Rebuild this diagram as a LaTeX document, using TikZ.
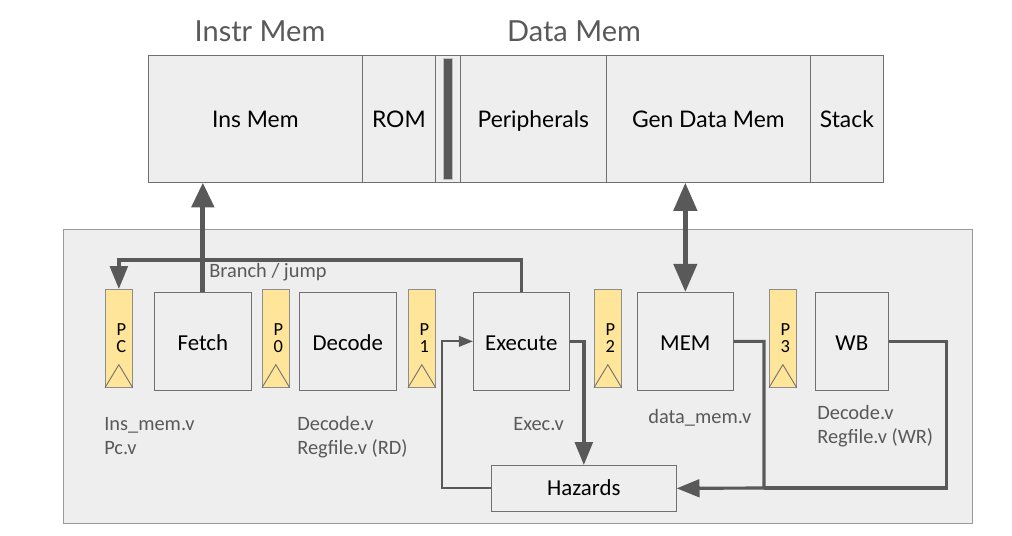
\documentclass[tikz,border=0pt]{standalone}
\usepackage{fontspec}
\setmainfont{Carlito}
\newfontfamily\latofont{Lato}
\usetikzlibrary{positioning,arrows.meta}
\definecolor{boxgray}{HTML}{EEEEEE}
\definecolor{edgegray}{HTML}{707070}
\definecolor{wiregray}{HTML}{595959}
\definecolor{regyellow}{HTML}{FFE599}
\tikzset{memcell/.style={rectangle, draw=edgegray, fill=boxgray,
    anchor=north west, minimum height=2.54cm, inner sep=0pt,
    text height=9.6pt, text depth=0pt,
    font=\latofont\fontsize{13}{16}\selectfont},
  stage/.style={rectangle, draw=edgegray, fill=boxgray,
    anchor=north west, minimum height=1.96cm, inner sep=0pt,
    text height=10pt, text depth=0pt,
    font=\fontsize{13}{15}\selectfont},
  pipereg/.style={rectangle, draw=edgegray!80, fill=regyellow,
    anchor=north west, minimum width=0.54cm, minimum height=1.96cm,
    inner sep=0pt, align=center, font=\fontsize{10.5}{9.5}\selectfont},
  clk/.style={draw=edgegray, line width=0.5pt},
  srcfile/.style={anchor=base west, inner sep=0pt, align=left,
    text=wiregray, font=\fontsize{11.6}{13.6}\selectfont},
  title/.style={anchor=base, inner sep=0pt, text=wiregray,
    font=\latofont\fontsize{16.5}{20}\selectfont},
  bus/.style={draw=wiregray, line width=2.8pt},
  wire/.style={draw=wiregray, line width=2pt},
  bigtip/.style={-{Triangle[length=14pt,width=12.5pt]}},
  smalltip/.style={-{Triangle[length=13pt,width=10pt]}}
}

\begin{document}
\begin{tikzpicture}[x=0.02cm, y=-0.02cm]
   \useasboundingbox (0,0) rectangle (1012,535);

   %Memory titles
   \node (Title-I) [title] at (260,41) {Instr Mem};
   \node (Title-D) [title] at (574,41) {Data Mem};

   %Memory map row
   \node (insmem) [memcell, minimum width=4.28cm] at (148,55) {Ins Mem};
   \node (rom) [memcell, minimum width=1.46cm] at (362,55) {ROM};
   \node (gap) [memcell, minimum width=0.5cm] at (435,55) {};
   \node (bar) [rectangle, draw=gray!50, fill=wiregray, inner sep=0pt,
      minimum width=0.2cm, minimum height=2.42cm] at (gap.center) {};
   \node (periph) [memcell, minimum width=2.92cm] at (460,55) {Peripherals};
   \node (gendata) [memcell, minimum width=4.08cm] at (606,55) {Gen Data Mem};
   \node (stack) [memcell, minimum width=1.46cm] at (810,55) {Stack};

   %Pipeline frame
   \node (pipeline) [rectangle, draw=gray!80, fill=boxgray, anchor=north west,
      minimum width=18.18cm, minimum height=5.88cm, inner sep=0pt] at (63,229) {};

   %Pipeline registers
   \node (pc) [pipereg] at (105,289) {\hspace*{0.1cm}P\\\hspace*{0.1cm}C};
   \node (p0) [pipereg] at (262,289) {\hspace*{0.1cm}P\\\hspace*{0.1cm}0};
   \node (p1) [pipereg] at (408,289) {\hspace*{0.1cm}P\\\hspace*{0.1cm}1};
   \node (p2) [pipereg] at (594,289) {\hspace*{0.1cm}P\\\hspace*{0.1cm}2};
   \node (p3) [pipereg] at (769,289) {\hspace*{0.1cm}P\\\hspace*{0.1cm}3};
   \foreach \reg in {pc,p0,p1,p2,p3}
      \draw[clk] (\reg.south west) -- ([yshift=0.46cm]\reg.south) -- (\reg.south east);

   %Stage nodes
   \node (fetch) [stage, minimum width=1.94cm] at (154,292) {Fetch};
   \node (decode) [stage, minimum width=1.94cm] at (299,292) {Decode};
   \node (execute) [stage, minimum width=1.92cm] at (473,292) {Execute};
   \node (mem) [stage, minimum width=1.92cm] at (637,292) {MEM};
   \node (wb) [stage, minimum width=1.46cm] at (815,292) {WB};
   \node (hazards) [stage, minimum width=3.7cm, minimum height=0.92cm,
      text height=8pt] at (491,465) {Hazards};

   %Source file labels (base is the last line)
   \node (src-F) [srcfile] at (104,454) {Ins\_mem.v\\Pc.v};
   \node (src-D) [srcfile] at (297,454) {Decode.v\\Regfile.v (RD)};
   \node (src-E) [srcfile] at (513,430) {Exec.v};
   \node (src-M) [srcfile] at (648,423) {data\_mem.v};
   \node (src-W) [srcfile] at (817,443) {Decode.v\\Regfile.v (WR)};
   \node (branch) [srcfile] at (209,277) {Branch / jump};

   \coordinate (merge) at (764,488);

   \draw[bus, bigtip] (fetch.north) -- (fetch.north |- insmem.south);
   \draw[bus, {Triangle[length=16pt,width=13pt]}-{Triangle[length=16pt,width=13pt]}]
      (mem.north |- gendata.south) -- (mem.north);
   \draw[wire, smalltip] (execute.north) -- ++(0,-32) -| (pc.north);
   \draw[wire, smalltip] (execute.east) -| (hazards.north);
   \draw[draw=wiregray, line width=1.2pt, -{Triangle[length=8pt,width=6pt]}]
      (hazards.west) -- ++(-49,0) |- (execute.west);
   \draw[wire, line width=1.8pt, smalltip] (mem.east) -| (merge) -- (hazards.east);
   \draw[wire, line width=1.8pt] (wb.east) -- ++(58,0) |- (merge);

\end{tikzpicture}
\end{document}
